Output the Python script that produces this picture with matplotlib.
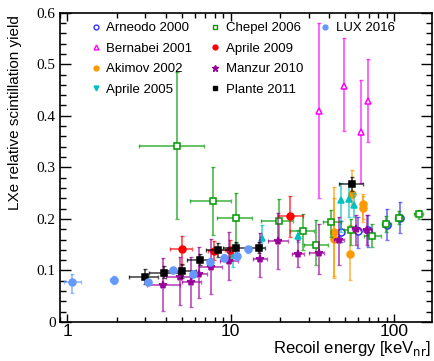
import numpy as np
import matplotlib
matplotlib.use("Agg")
import matplotlib.pyplot as plt
from matplotlib.lines import Line2D
from matplotlib.ticker import FixedLocator, LogLocator, NullFormatter, MultipleLocator

# Arneodo 2000
arn_E = [47.5, 60.0, 69.0, 90.0, 108.0]
arn_y = [0.175, 0.176, 0.178, 0.189, 0.202]
arn_xlo = [45.5, 57.5, 66.0, 86.0, 103.0]
arn_xhi = [49.5, 62.5, 72.0, 94.0, 113.0]
arn_ylo = [0.155, 0.143, 0.146, 0.159, 0.172]
arn_yhi = [0.195, 0.204, 0.207, 0.220, 0.232]

# Bernabei 2001
ber_E = [34.8, 49.1, 62.3, 68.8]
ber_y = [0.409, 0.458, 0.368, 0.428]
ber_ylo = [0.240, 0.370, 0.269, 0.350]
ber_yhi = [0.579, 0.550, 0.470, 0.510]

# Akimov 2002
aki_E = [43.1, 43.1, 54.0, 55.0, 64.5, 64.5]
aki_y = [0.174, 0.161, 0.131, 0.249, 0.229, 0.222]
aki_ylo = [0.085, 0.090, 0.081, 0.226, 0.200, 0.194]
aki_yhi = [0.262, 0.240, 0.188, 0.294, 0.249, 0.245]

# Aprile 2005
a05_E = [10.3, 15.5, 25.7, 47.0, 53.0, 56.5]
a05_y = [0.130, 0.162, 0.166, 0.237, 0.239, 0.226]
a05_ylo = [0.107, 0.143, 0.155, 0.175, 0.204, 0.204]
a05_yhi = [0.149, 0.188, 0.178, 0.269, 0.269, 0.250]

# Chepel 2006
che_E = [4.72, 7.8, 10.8, 19.6, 27.6, 33.3, 41.3, 54.4, 73.6, 89.6, 107.6, 141.0]
che_y = [0.342, 0.234, 0.202, 0.196, 0.177, 0.149, 0.194, 0.178, 0.167, 0.190, 0.202, 0.209]
che_xlo = [2.73, 5.65, 8.2, 15.3, 23.2, 28.2, 36.5, 49.0, 65.2, 84.0, 101.0, 133.0]
che_xhi = [6.9, 10.0, 13.5, 23.9, 32.5, 39.3, 47.2, 60.0, 83.0, 95.0, 114.0, 151.0]
che_ylo = [0.200, 0.168, 0.153, 0.159, 0.140, 0.110, 0.165, 0.150, 0.145, 0.175, 0.190, 0.200]
che_yhi = [0.484, 0.300, 0.250, 0.239, 0.210, 0.197, 0.217, 0.200, 0.190, 0.205, 0.215, 0.217]

# Aprile 2009
a09_E = [5.0, 7.95, 9.9, 23.1]
a09_y = [0.141, 0.138, 0.140, 0.205]
a09_xlo = [4.26, 7.3, 9.2, 19.4]
a09_xhi = [5.76, 8.7, 10.7, 27.5]
a09_ylo = [0.110, 0.120, 0.118, 0.165]
a09_yhi = [0.166, 0.157, 0.160, 0.244]

# Manzur 2010
man_E = [3.87, 4.86, 5.73, 6.37, 7.55, 9.8, 15.1, 19.5, 25.7, 34.8, 46.1, 58.5, 68.5]
man_y = [0.072, 0.088, 0.078, 0.094, 0.106, 0.119, 0.123, 0.157, 0.132, 0.133, 0.160, 0.180, 0.178]
man_xlo = [3.05, 4.0, 5.0, 5.6, 6.35, 8.6, 13.6, 16.8, 23.7, 30.2, 43.0, 55.0, 64.0]
man_xhi = [4.9, 5.8, 6.6, 7.2, 8.85, 11.0, 16.7, 22.3, 27.9, 37.3, 49.0, 62.0, 73.0]
man_ylo = [0.022, 0.033, 0.030, 0.046, 0.054, 0.081, 0.088, 0.102, 0.107, 0.093, 0.110, 0.150, 0.149]
man_yhi = [0.125, 0.126, 0.126, 0.145, 0.161, 0.175, 0.172, 0.211, 0.159, 0.190, 0.204, 0.207, 0.207]

# Plante 2011
pla_E = [2.98, 3.89, 5.0, 6.5, 8.36, 10.7, 14.8, 55.0]
pla_y = [0.088, 0.095, 0.099, 0.121, 0.139, 0.143, 0.144, 0.268]
pla_xlo = [2.37, 3.18, 4.03, 5.4, 7.07, 8.9, 13.3, 46.2]
pla_xhi = [3.6, 4.78, 6.14, 7.7, 9.9, 13.0, 16.3, 64.0]
pla_ylo = [0.073, 0.085, 0.086, 0.110, 0.126, 0.130, 0.134, 0.255]
pla_yhi = [0.102, 0.109, 0.112, 0.131, 0.154, 0.156, 0.155, 0.281]

# LUX 2016
lux_E = [1.07, 1.92, 3.13, 4.44, 5.86, 7.5, 9.06, 10.9, 12.8]
lux_y = [0.077, 0.082, 0.077, 0.101, 0.094, 0.117, 0.125, 0.128, 0.141]
lux_xlo = [0.95, 1.82, 3.0, 4.25, 5.6, 7.2, 8.7, 10.5, 12.3]
lux_xhi = [1.22, 2.02, 3.25, 4.6, 6.1, 7.8, 9.4, 11.3, 13.3]
lux_ylo = [0.057, 0.074, 0.071, 0.095, 0.088, 0.110, 0.118, 0.121, 0.134]
lux_yhi = [0.093, 0.090, 0.083, 0.107, 0.100, 0.124, 0.132, 0.135, 0.148]

plt.rcParams['font.family'] = ['Liberation Sans', 'DejaVu Sans']

fig = plt.figure(figsize=(4.34, 3.61), dpi=100)
ax = fig.add_axes([0.138, 0.108, 0.857, 0.857])


def draw(E, y, ylo, yhi, color, marker, filled=True, xlo=None, xhi=None, ms=5):
    E = np.array(E)
    y = np.array(y)
    yerr = [y - np.array(ylo), np.array(yhi) - y]
    xerr = None
    if xlo is not None:
        xerr = [E - np.array(xlo), np.array(xhi) - E]
    ax.errorbar(E, y, yerr=yerr, xerr=xerr, fmt='none', ecolor=color,
                alpha=0.65, elinewidth=1.3, capsize=1.5, capthick=1.0)
    ax.plot(E, y, linestyle='none', marker=marker, ms=ms, color=color,
            mfc=color if filled else 'white', mew=1.1)


draw(arn_E, arn_y, arn_ylo, arn_yhi, '#3333ff', 'o', False, arn_xlo, arn_xhi)
draw(ber_E, ber_y, ber_ylo, ber_yhi, '#ff00ff', '^', False)
draw(aki_E, aki_y, aki_ylo, aki_yhi, '#ff9900', 'o')
draw(a05_E, a05_y, a05_ylo, a05_yhi, '#00c0c0', '^')
draw(che_E, che_y, che_ylo, che_yhi, '#009900', 's', False, che_xlo, che_xhi)
draw(a09_E, a09_y, a09_ylo, a09_yhi, '#ff0000', 'o', True, a09_xlo, a09_xhi)
draw(man_E, man_y, man_ylo, man_yhi, '#990099', '*', True, man_xlo, man_xhi, ms=6)
draw(pla_E, pla_y, pla_ylo, pla_yhi, 'black', 's', True, pla_xlo, pla_xhi)
draw(lux_E, lux_y, lux_ylo, lux_yhi, '#6699ff', 'o', True, lux_xlo, lux_xhi)

ax.set_xscale('log')
ax.set_xlim(0.9, 170)
ax.set_ylim(0, 0.6)

ax.xaxis.set_major_locator(FixedLocator([1, 10, 100]))
ax.set_xticklabels(['1', '10', '100'], fontsize=12.5)
ax.xaxis.set_minor_locator(LogLocator(base=10, subs=np.arange(2, 10)))
ax.xaxis.set_minor_formatter(NullFormatter())
ax.yaxis.set_major_locator(MultipleLocator(0.1))
ax.yaxis.set_minor_locator(MultipleLocator(0.02))
ax.set_yticks([0, 0.1, 0.2, 0.3, 0.4, 0.5, 0.6])
ax.set_yticklabels(['0', '0.1', '0.2', '0.3', '0.4', '0.5', '0.6'],
                   family=['Liberation Serif'], fontsize=11)

ax.tick_params(axis='both', which='both', direction='in', top=True, right=True, width=1.0)
ax.tick_params(axis='y', which='major', length=8, pad=3)
ax.tick_params(axis='y', which='minor', length=4.5)
ax.tick_params(axis='x', which='major', length=6, pad=1.5)
ax.tick_params(axis='x', which='minor', length=3.5)
for s in ax.spines.values():
    s.set_linewidth(1.2)

fig.text(15 / 434, 1 - 15 / 361, 'LXe relative scintillation yield', rotation=90,
         ha='center', va='top', fontsize=11)
fig.text(431 / 434, 8 / 361, r'Recoil energy [keV$_{\rm nr}$]', ha='right',
         va='baseline', fontsize=12)

# legend: columns of 4, 4, 1 (blank slots padded)
labels = ['Arneodo 2000', 'Bernabei 2001', 'Akimov 2002', 'Aprile 2005',
          'Chepel 2006', 'Aprile 2009', 'Manzur 2010', 'Plante 2011',
          'LUX 2016', '', '', '']
styles = [('#3333ff', 'o', False), ('#ff00ff', '^', False), ('#ff9900', 'o', True),
          ('#00c0c0', 'v', True), ('#009900', 's', False), ('#ff0000', 'o', True),
          ('#990099', '*', True), ('black', 's', True), ('#6699ff', 'o', True)]
handles = [Line2D([], [], linestyle='none', marker=m, color=c, ms=4.5 if m == '*' else 3.5,
                  mfc=c if f else 'white', mew=1.0) for c, m, f in styles]
handles += [Line2D([], [], linestyle='none') for _ in range(3)]
ax.legend(handles, labels, ncol=3, loc='upper left', bbox_to_anchor=(0.065, 0.995),
          frameon=False, fontsize=9.5, handlelength=0.6, handletextpad=0.5,
          columnspacing=1.4, labelspacing=0.62, borderaxespad=0.2)

fig.savefig('out.png', dpi=100)
